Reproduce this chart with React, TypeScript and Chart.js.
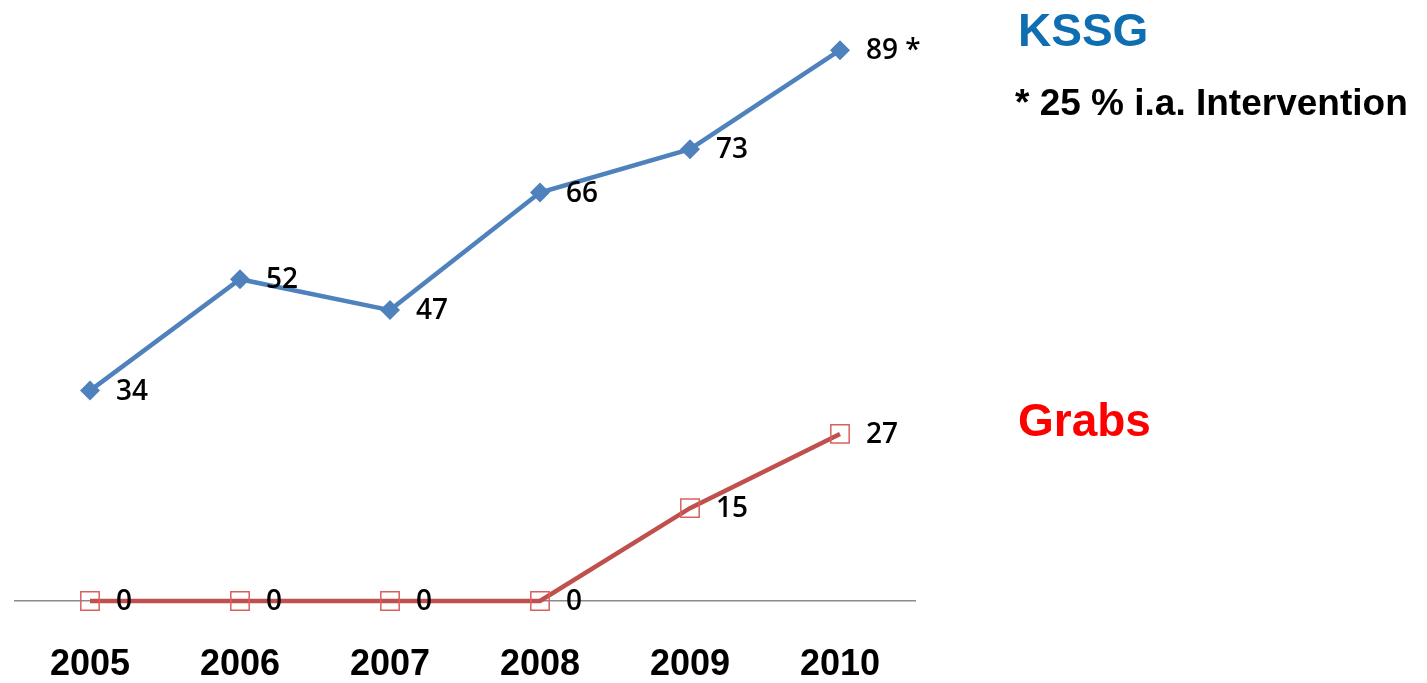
import React, { useEffect, useRef } from "react";
import { Chart, registerables } from "chart.js";

Chart.register(...registerables);

const years = ["2005", "2006", "2007", "2008", "2009", "2010"];
const kssgValues = [34, 52, 47, 66, 73, 89];
const grabsValues = [0, 0, 0, 0, 15, 27];
const kssgSuffix = ["", "", "", "", "", " *"];
const grabsSuffix = ["", "", "", "", "", ""];
const titleKssg = "KSSG";
const noteKssg = "* 25 % i.a. Intervention";
const titleGrabs = "Grabs";

const labelPlugin = {
  id: "valueLabels",
  afterDatasetsDraw(chart: any) {
    const ctx = chart.ctx;
    ctx.save();
    ctx.font = "600 28px 'Open Sans', 'DejaVu Sans', sans-serif";
    ctx.fillStyle = "#000";
    ctx.textAlign = "left";
    ctx.textBaseline = "middle";
    chart.data.datasets.forEach((ds: any, i: number) => {
      const meta = chart.getDatasetMeta(i);
      const suffix: string[] = ds.labelSuffix || [];
      meta.data.forEach((pt: any, j: number) => {
        ctx.fillText(String(ds.data[j]) + (suffix[j] || ""), pt.x + 26, pt.y + 1);
      });
    });
    ctx.restore();
  },
  afterDraw(chart: any) {
    const ctx = chart.ctx;
    ctx.save();
    ctx.textAlign = "left";
    ctx.textBaseline = "alphabetic";
    ctx.font = "bold 46px 'Liberation Sans', Arial, sans-serif";
    ctx.fillStyle = "#0F6DB1";
    ctx.fillText(titleKssg, 1018, 46);
    ctx.font = "bold 37px 'Liberation Sans', Arial, sans-serif";
    ctx.fillStyle = "#000";
    ctx.fillText(noteKssg, 1015, 115);
    ctx.font = "bold 46px 'Liberation Sans', Arial, sans-serif";
    ctx.fillStyle = "#FF0000";
    ctx.fillText(titleGrabs, 1018, 436);
    ctx.restore();
  },
};

export default function App() {
  const ref = useRef<HTMLCanvasElement | null>(null);
  useEffect(() => {
    if (!ref.current) return;
    const chart = new Chart(ref.current, {
      type: "line",
      data: {
        labels: years,
        datasets: [
          {
            label: "KSSG",
            data: kssgValues,
            borderColor: "#4F81BD",
            backgroundColor: "#4F81BD",
            borderWidth: 4.5,
            pointStyle: "rectRot",
            pointRadius: 10,
            pointBorderWidth: 0,
            pointBackgroundColor: "#4F81BD",
            tension: 0,
            clip: false,
            labelSuffix: kssgSuffix,
          } as any,
          {
            label: "Grabs",
            data: grabsValues,
            borderColor: "#C0504D",
            backgroundColor: "rgba(0,0,0,0)",
            borderWidth: 4.5,
            pointStyle: "rect",
            pointRadius: 13,
            pointBorderWidth: 1.5,
            pointBorderColor: "#D9605C",
            pointBackgroundColor: "rgba(0,0,0,0)",
            tension: 0,
            clip: false,
            labelSuffix: grabsSuffix,
          } as any,
        ],
      },
      options: {
        animation: false,
        responsive: true,
        maintainAspectRatio: false,
        layout: { padding: { top: 44, left: 15, right: 512, bottom: 0 } },
        plugins: { legend: { display: false }, tooltip: { enabled: false } },
        scales: {
          x: {
            offset: true,
            grid: { display: false, drawTicks: false },
            border: { display: true, color: "#8a8a8a", width: 1.5 },
            afterFit: (scale: any) => {
              scale.height = 82;
            },
            ticks: {
              color: "#000",
              padding: 46,
              font: { family: "'Liberation Sans', Arial, sans-serif", size: 36, weight: "bold", lineHeight: 1 },
            },
          },
          y: {
            display: false,
            min: 0,
            max: 90,
          },
        },
      },
      plugins: [labelPlugin],
    });
    return () => chart.destroy();
  }, []);
  return (
    <div style={{ position: "fixed", left: 0, top: 0, width: 1427, height: 683, background: "#fff" }}>
      <canvas ref={ref} />
    </div>
  );
}
